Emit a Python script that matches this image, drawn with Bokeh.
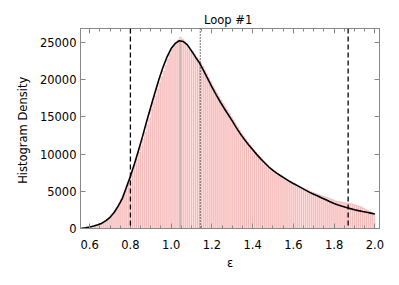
import numpy as np
from bokeh.plotting import figure
from bokeh.models import LinearAxis, Span, Range1d, FixedTicker, PrintfTickFormatter, CustomJSTickFormatter
from bokeh.embed import file_html
from bokeh.resources import INLINE

# Histogram: bins of width 0.01 starting at 0.60
bin_start = 0.60
bin_width = 0.01
hist_counts = [
    150, 220, 300, 380, 470, 580, 720, 900, 1100, 1350,
    1650, 2000, 2400, 2850, 3350, 3900, 4500, 5150, 5800, 6450,
    7100, 7800, 8550, 9350, 10200, 11050, 11950, 12900, 13850, 14800,
    16000, 16900, 17800, 18700, 19500, 20300, 21100, 21900, 22700, 23400,
    24000, 24500, 24900, 25300, 25650, 25400, 25150, 24800, 24450, 24050,
    23800, 23400, 23000, 22600, 22200, 21750, 21250, 20750, 20250, 19700,
    19100, 18600, 18150, 17700, 17250, 16800, 16350, 15900, 15450, 15000,
    14550, 14100, 13650, 13200, 12800, 12400, 12000, 11600, 11250, 10900,
    10550, 10200, 9900, 9600, 9300, 9000, 8700, 8450, 8200, 7950,
    7700, 7500, 7300, 7100, 6900, 6700, 6550, 6350, 6200, 6050,
    6000, 5850, 5700, 5550, 5450, 5300, 5200, 5050, 4950, 4850,
    4750, 4650, 4550, 4450, 4350, 4250, 4150, 4050, 3950, 3850,
    3700, 3650, 3600, 3550, 3500, 3450, 3400, 3350, 3300, 3250,
    3150, 3050, 2950, 2850, 2700, 2550, 2400, 2250, 2150, 2050,
]

# Fitted curve
fit_x = [0.56, 0.58, 0.60, 0.62, 0.64, 0.66, 0.68, 0.70, 0.72, 0.74,
         0.76, 0.78, 0.80, 0.82, 0.84, 0.86, 0.88, 0.90, 0.92, 0.94,
         0.96, 0.98, 1.00, 1.02, 1.04, 1.06, 1.08, 1.10, 1.12, 1.14,
         1.16, 1.18, 1.20, 1.22, 1.24, 1.26, 1.28, 1.30, 1.32, 1.34,
         1.36, 1.38, 1.40, 1.42, 1.44, 1.46, 1.48, 1.50, 1.52, 1.54,
         1.56, 1.58, 1.60, 1.62, 1.64, 1.66, 1.68, 1.70, 1.72, 1.74,
         1.76, 1.78, 1.80, 1.82, 1.84, 1.86, 1.88, 1.90, 1.92, 1.94,
         1.96, 1.98, 2.00]
fit_y = [40, 100, 200, 330, 500, 720, 1050, 1500, 2150, 3000,
         4000, 5500, 7000, 8700, 10500, 12400, 14400, 16300, 18200, 20000,
         21650, 23050, 24150, 24850, 25200, 25100, 24650, 23850, 23000, 22200,
         21150, 20100, 19000, 18000, 17050, 16150, 15300, 14450, 13550, 12700,
         11950, 11250, 10600, 9950, 9350, 8800, 8250, 7800, 7400, 7050,
         6700, 6350, 6050, 5750, 5450, 5150, 4850, 4600, 4350, 4100,
         3850, 3600, 3350, 3150, 2980, 2820, 2670, 2530, 2400, 2280,
         2170, 2060, 1950]

dashed_x = [0.80, 1.869]
dotted_x = [1.143]
peak_x = [1.045]
peak_y = [25200]

x_ticks = [0.6, 0.8, 1.0, 1.2, 1.4, 1.6, 1.8, 2.0]
x_minor = [0.55, 0.65, 0.7, 0.75, 0.85, 0.9, 0.95, 1.05, 1.1, 1.15, 1.25, 1.3, 1.35,
           1.45, 1.5, 1.55, 1.65, 1.7, 1.75, 1.85, 1.9, 1.95]
y_ticks = [0, 5000, 10000, 15000, 20000, 25000]

FONT = "DejaVu Sans"
FS = "11.5px"

p = figure(width=399, height=285, output_backend="svg", toolbar_location=None,
           x_range=Range1d(0.555, 2.023), y_range=Range1d(0, 26850),
           min_border_left=80, min_border_right=20, min_border_top=28,
           min_border_bottom=57)
p.title.text = "Loop  #1"
p.title.align = "center"
p.title.text_font = FONT
p.title.text_font_size = FS
p.title.text_font_style = "normal"
p.title.text_color = "black"
p.title.standoff = 3
p.title.offset = 0

centers = bin_start + bin_width * (np.arange(len(hist_counts)) + 0.5)
p.vbar(x=centers, top=hist_counts, bottom=0, width=bin_width,
       fill_color="#ffdfdf", line_color="#f0aaaa", line_width=0.6)

p.segment(x0=peak_x, y0=[0], x1=peak_x, y1=peak_y, line_color="#c9b2b2", line_width=2)

for xv in dashed_x:
    p.add_layout(Span(location=xv, dimension="height", line_color="black",
                      line_dash="5 3", line_width=1.3))
for xv in dotted_x:
    p.add_layout(Span(location=xv, dimension="height", line_color="black",
                      line_dash="1 2", line_width=1.1))

p.line(fit_x, fit_y, line_color="black", line_width=1.6)

p.xgrid.visible = False
p.ygrid.visible = False
p.outline_line_color = "#888888"

def style_axis(ax):
    ax.axis_line_color = "#888888"
    ax.major_tick_line_color = "#888888"
    ax.minor_tick_line_color = "#888888"
    ax.major_tick_in = 5
    ax.major_tick_out = 0
    ax.minor_tick_in = 3
    ax.minor_tick_out = 0
    ax.major_label_text_font = FONT
    ax.major_label_text_font_size = FS
    ax.major_label_text_color = "black"
    ax.axis_label_text_font = FONT
    ax.axis_label_text_font_size = FS
    ax.axis_label_text_font_style = "normal"
    ax.axis_label_text_color = "black"

xa = p.xaxis[0]
xa.ticker = FixedTicker(ticks=x_ticks, minor_ticks=x_minor)
xa.formatter = PrintfTickFormatter(format="%.1f")
xa.axis_label = "ε"
xa.axis_label_standoff = 4
xa.major_label_standoff = 11
style_axis(xa)

ya = p.yaxis[0]
ya.ticker = FixedTicker(ticks=y_ticks, minor_ticks=[])
ya.axis_label = "Histogram  Density"
ya.axis_label_standoff = 7
ya.major_label_standoff = 4
ya.major_label_orientation = "horizontal"
style_axis(ya)

top = LinearAxis(ticker=FixedTicker(ticks=x_ticks, minor_ticks=x_minor),
                 formatter=CustomJSTickFormatter(code="return '';"))
style_axis(top)
top.major_label_standoff = 0
p.add_layout(top, "above")
right = LinearAxis(ticker=FixedTicker(ticks=y_ticks, minor_ticks=[]),
                   formatter=CustomJSTickFormatter(code="return '';"))
style_axis(right)
right.major_label_standoff = 0
p.add_layout(right, "right")

open("out.html", "w").write(file_html(p, INLINE))
